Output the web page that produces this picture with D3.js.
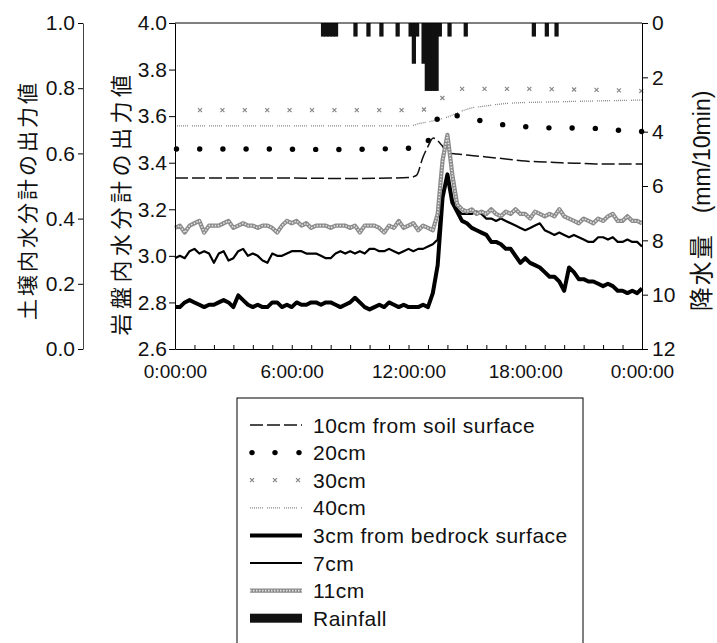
<!DOCTYPE html>
<html>
<head>
<meta charset="utf-8">
<script src="https://cdn.jsdelivr.net/npm/d3@7"></script>
<style>
body { margin: 0; background: #fff; }
text { font-family: "Liberation Sans", Arial, sans-serif; fill: #111; }
.jp { font-family: "Noto Sans CJK JP", sans-serif; }
</style>
</head>
<body>
<svg id="chart" width="717" height="643"></svg>
<script>
// bedrock sensors, one reading every 15 minutes from 0:00 to 24:00
const gridStep = 0.25;
const bed3cm = [
  2.78, 2.78, 2.80, 2.81, 2.80, 2.79, 2.78, 2.79, 2.79, 2.80, 2.81, 2.80, 2.78, 2.83, 2.81, 2.79, 2.78, 2.79, 2.78, 2.78, 2.80, 2.80, 2.78, 2.79, 2.78, 2.80,
  2.79, 2.79, 2.80, 2.80, 2.79, 2.80, 2.80, 2.79, 2.78, 2.79, 2.80, 2.82, 2.80, 2.78, 2.77, 2.78, 2.79, 2.78, 2.80, 2.79, 2.78, 2.79, 2.78, 2.78, 2.78, 2.79,
  2.78, 2.84, 2.96, 3.25, 3.35,
  3.23, 3.19, 3.15, 3.14, 3.12, 3.11, 3.10, 3.09, 3.06, 3.06, 3.05, 3.03, 3.03, 3.00, 2.97, 2.99, 2.97, 2.96, 2.95, 2.93,
  2.91, 2.91, 2.89, 2.85, 2.95, 2.93, 2.90, 2.90, 2.89, 2.89, 2.88, 2.87, 2.88, 2.87, 2.85, 2.85, 2.84, 2.85, 2.84, 2.86
];
const bed7cm = [
  2.99, 3.00, 2.99, 3.02, 3.03, 3.01, 3.02, 3.01, 2.97, 3.01, 3.02, 2.98, 2.99, 3.02, 3.03, 3.00, 3.01, 3.00, 2.98, 2.97, 3.01, 3.00, 3.00, 3.01, 3.02, 3.02,
  3.02, 3.01, 3.01, 3.01, 3.00, 2.99, 2.99, 3.01, 3.02, 3.01, 3.02, 3.01, 3.02, 3.01, 3.03, 3.03, 3.02, 3.02, 3.03, 3.02, 3.01, 3.02, 3.03, 3.02, 3.03, 3.03,
  3.04, 3.05, 3.07, 3.26, 3.34,
  3.24, 3.20, 3.18, 3.18, 3.18, 3.19, 3.18, 3.16, 3.16, 3.15, 3.16, 3.15, 3.14, 3.13, 3.12, 3.11, 3.12, 3.13, 3.14, 3.11,
  3.10, 3.09, 3.10, 3.09, 3.08, 3.09, 3.08, 3.07, 3.06, 3.06, 3.08, 3.08, 3.07, 3.08, 3.06, 3.06, 3.07, 3.06, 3.06, 3.04
];
const bed11cm = [
  3.12, 3.13, 3.10, 3.13, 3.14, 3.15, 3.10, 3.13, 3.13, 3.13, 3.14, 3.15, 3.12, 3.13, 3.14, 3.13, 3.13, 3.12, 3.13, 3.13, 3.12, 3.10, 3.13, 3.15, 3.14, 3.15,
  3.13, 3.14, 3.12, 3.13, 3.13, 3.13, 3.12, 3.13, 3.13, 3.13, 3.12, 3.13, 3.10, 3.13, 3.13, 3.13, 3.12, 3.10, 3.13, 3.12, 3.15, 3.12, 3.13, 3.14, 3.11, 3.13,
  3.12, 3.11, 3.18, 3.41, 3.52,
  3.35, 3.22, 3.20, 3.19, 3.20, 3.18, 3.19, 3.18, 3.20, 3.18, 3.17, 3.19, 3.18, 3.20, 3.18, 3.18, 3.16, 3.19, 3.18, 3.17,
  3.18, 3.17, 3.20, 3.17, 3.16, 3.15, 3.14, 3.16, 3.15, 3.14, 3.16, 3.15, 3.17, 3.18, 3.15, 3.15, 3.17, 3.15, 3.15, 3.14
];

// soil sensors (smooth, read at irregular hours)
const soil10Hours = [0, 3, 6, 9, 11, 12, 12.4, 12.75, 13.0, 13.27, 13.7, 14.0, 14.5, 15, 16, 17, 18, 19, 20, 21, 22, 23, 24];
const soil10 = [3.334, 3.334, 3.334, 3.332, 3.334, 3.336, 3.345, 3.425, 3.47, 3.506, 3.476, 3.442, 3.437, 3.433, 3.425, 3.416, 3.407, 3.403, 3.399, 3.397, 3.394, 3.394, 3.394];
const soil20Hours = [0, 4, 8, 12, 12.85, 13.3, 13.77, 14.95, 16.1, 17.3, 18.5, 19.6, 20.9, 22.1, 23.3, 24];
const soil20 = [3.459, 3.459, 3.457, 3.462, 3.472, 3.56, 3.613, 3.592, 3.575, 3.558, 3.553, 3.549, 3.549, 3.545, 3.536, 3.534];
const soil30Hours = [0, 6, 12, 13.0, 13.6, 14.6, 16, 18, 20, 22, 24];
const soil30 = [3.626, 3.626, 3.626, 3.63, 3.669, 3.717, 3.717, 3.717, 3.715, 3.712, 3.708];
const soil40Hours = [0, 6, 12, 12.6, 13.44, 14.0, 14.65, 15.05, 16.0, 17.3, 19.3, 21.5, 24];
const soil40 = [3.558, 3.558, 3.558, 3.569, 3.583, 3.596, 3.619, 3.631, 3.644, 3.656, 3.661, 3.665, 3.669];

// rainfall per 10 minutes (start of interval)
const rainTimes = ["7:30", "7:40", "7:50", "8:00", "8:10", "9:10", "9:50", "10:30", "11:20", "12:00", "12:10", "12:20",
  "12:40", "12:50", "13:00", "13:10", "13:20", "13:30", "14:00", "14:50", "18:20", "19:00", "19:30"];
const rainMm = [0.5, 0.5, 0.5, 0.5, 0.5, 0.5, 0.5, 0.5, 0.5, 0.5, 1.5, 0.5,
  1.5, 2.5, 2.5, 2.5, 2.5, 0.5, 0.5, 0.5, 0.5, 0.5, 0.5];

const timeLabelHours = [0, 6, 12, 18, 24];
const timeLabels = ["0:00:00", "6:00:00", "12:00:00", "18:00:00", "0:00:00"];
const bedTicks = [2.6, 2.8, 3.0, 3.2, 3.4, 3.6, 3.8, 4.0];
const soilTicks = [0, 0.2, 0.4, 0.6, 0.8, 1.0];
const rainTicks = [0, 2, 4, 6, 8, 10, 12];
const legendLabels = ["10cm from soil surface", "20cm", "30cm", "40cm", "3cm from bedrock surface", "7cm", "11cm", "Rainfall"];

const svg = d3.select("#chart");

const x = d3.scaleLinear().domain([0, 24]).range([175, 642]);
const y = d3.scaleLinear().domain([2.6, 4.0]).range([349, 23]);
const ySoil = d3.scaleLinear().domain([0, 1]).range([349, 23]);
const yRain = d3.scaleLinear().domain([0, 12]).range([23, 349]);

const toHour = t => { const [h, m] = t.split(":").map(Number); return h + m / 60; };
const pairs = (hs, vs) => hs.map((h, i) => [h, vs[i]]);
const grid = vs => vs.map((v, i) => [i * gridStep, v]);

const line = d3.line().x(d => x(d[0])).y(d => y(d[1]));
const smooth = d3.line().x(d => x(d[0])).y(d => y(d[1])).curve(d3.curveMonotoneX);

// rain bars hang from the top axis
svg.append("g").selectAll("rect")
  .data(rainTimes.map((t, i) => ({ h: toHour(t), mm: rainMm[i] })))
  .join("rect")
  .attr("x", d => x(d.h))
  .attr("y", yRain(0))
  .attr("width", x(10 / 60) - x(0) + 1)
  .attr("height", d => yRain(d.mm) - yRain(0))
  .attr("fill", "#111");

const plot = svg.append("g");

// points spaced along a curve, for the dotted series
function marksAlong(data, gap, offset) {
  const p = plot.append("path").attr("d", smooth(data)).attr("fill", "none");
  const node = p.node();
  const len = node.getTotalLength();
  const pts = d3.range(offset, len, gap).map(l => node.getPointAtLength(l));
  p.remove();
  return pts;
}

const dash40 = "1,1,1,1,1,1,1,1,1,1,1,1,1,4";

plot.append("path")
  .attr("d", smooth(pairs(soil40Hours, soil40)))
  .attr("fill", "none").attr("stroke", "#888").attr("stroke-width", 1.3)
  .attr("stroke-dasharray", dash40);

const xMark = "M-2,-2L2,2M-2,2L2,-2";
plot.selectAll(".m30")
  .data(marksAlong(pairs(soil30Hours, soil30), 22.4, 25))
  .join("path")
  .attr("class", "m30")
  .attr("transform", d => `translate(${d.x},${d.y})`)
  .attr("d", xMark)
  .attr("stroke", "#888").attr("stroke-width", 1.2).attr("fill", "none");

plot.selectAll(".m20")
  .data(marksAlong(pairs(soil20Hours, soil20), 23.2, 1.5))
  .join("circle")
  .attr("class", "m20")
  .attr("cx", d => d.x).attr("cy", d => d.y).attr("r", 2.7)
  .attr("fill", "#000");

plot.append("path")
  .attr("d", smooth(pairs(soil10Hours, soil10)))
  .attr("fill", "none").attr("stroke", "#111").attr("stroke-width", 1.5)
  .attr("stroke-dasharray", "13,4");

plot.append("path")
  .attr("d", line(grid(bed3cm)))
  .attr("fill", "none").attr("stroke", "#000").attr("stroke-width", 4)
  .attr("stroke-linejoin", "round");

plot.append("path")
  .attr("d", line(grid(bed7cm)))
  .attr("fill", "none").attr("stroke", "#000").attr("stroke-width", 2.2)
  .attr("stroke-linejoin", "round");

plot.append("path")
  .attr("d", line(grid(bed11cm)))
  .attr("fill", "none").attr("stroke", "#8a8a8a").attr("stroke-width", 4.2)
  .attr("stroke-linejoin", "round");
plot.append("path")
  .attr("d", line(grid(bed11cm)))
  .attr("fill", "none").attr("stroke", "#e2e2e2").attr("stroke-width", 1.6)
  .attr("stroke-dasharray", "1.5,1.5");

// axes
function styleAxis(g, size) {
  g.attr("font-size", size).attr("font-family", null);
  g.selectAll("path, line").attr("stroke", "#000");
}

svg.append("g")
  .attr("transform", "translate(0,349)")
  .call(d3.axisBottom(x)
    .tickValues(d3.range(0, 25, 1))
    .tickSize(-4).tickSizeOuter(0).tickPadding(16)
    .tickFormat(h => {
      const i = timeLabelHours.indexOf(h);
      return i < 0 ? "" : timeLabels[i];
    }))
  .call(g => styleAxis(g, 19));

svg.append("line")
  .attr("x1", x(0)).attr("x2", x(24)).attr("y1", y(4.0)).attr("y2", y(4.0))
  .attr("stroke", "#000");

svg.append("g")
  .attr("transform", `translate(${x(0)},0)`)
  .call(d3.axisLeft(y).tickValues(bedTicks).tickFormat(d3.format(".1f"))
    .tickSize(6).tickSizeOuter(0).tickPadding(2))
  .call(g => styleAxis(g, 21));

svg.append("g")
  .attr("transform", "translate(83,0)")
  .call(d3.axisLeft(ySoil).tickValues(soilTicks).tickFormat(d3.format(".1f"))
    .tickSize(5).tickSizeOuter(0).tickPadding(3))
  .call(g => styleAxis(g, 21))
  .call(g => g.select(".domain").attr("stroke", "#444"));

svg.append("g")
  .attr("transform", `translate(${x(24)},0)`)
  .call(d3.axisRight(yRain).tickValues(rainTicks).tickFormat(d3.format("d"))
    .tickSize(6).tickSizeOuter(0).tickPadding(4))
  .call(g => styleAxis(g, 21));

// axis titles
svg.append("text").attr("class", "jp")
  .attr("transform", "translate(35,200) rotate(-90)")
  .attr("text-anchor", "middle").attr("font-size", 21).attr("letter-spacing", 3)
  .text("土壌内水分計の出力値");

svg.append("text").attr("class", "jp")
  .attr("transform", "translate(129,203) rotate(-90)")
  .attr("text-anchor", "middle").attr("font-size", 22).attr("letter-spacing", 4.5)
  .text("岩盤内水分計の出力値");

const rainTitle = svg.append("text")
  .attr("transform", "translate(710,201) rotate(-90)")
  .attr("text-anchor", "middle").attr("font-size", 23);
rainTitle.append("tspan").attr("class", "jp").attr("font-size", 24).attr("letter-spacing", 2).text("降水量");
rainTitle.append("tspan").attr("dx", 20).text("(mm/10min)");

// legend
const legend = svg.append("g");
legend.append("rect")
  .attr("x", 237).attr("y", 398).attr("width", 346).attr("height", 270)
  .attr("fill", "none").attr("stroke", "#000");

const lx0 = 250, lx1 = 302, ly0 = 425, lstep = 27.6;
const ly = i => ly0 + i * lstep;

legend.selectAll(".lab")
  .data(legendLabels)
  .join("text")
  .attr("class", "lab")
  .attr("x", 313).attr("y", (d, i) => ly(i))
  .attr("dy", "0.36em").attr("font-size", 21).attr("letter-spacing", 0.5)
  .text(d => d);

const seg = i => `M${lx0},${ly(i)}H${lx1}`;
legend.append("path").attr("d", seg(0)).attr("stroke", "#111").attr("stroke-width", 1.5).attr("stroke-dasharray", "13,4");
legend.selectAll(".l20").data([252, 275, 299]).join("circle").attr("class", "l20")
  .attr("cx", d => d).attr("cy", ly(1)).attr("r", 2.7).attr("fill", "#000");
legend.selectAll(".l30").data([252, 275, 298]).join("path").attr("class", "l30")
  .attr("transform", d => `translate(${d},${ly(2)})`).attr("d", xMark)
  .attr("stroke", "#888").attr("stroke-width", 1.2).attr("fill", "none");
legend.append("path").attr("d", seg(3)).attr("stroke", "#888").attr("stroke-width", 1.3).attr("stroke-dasharray", dash40);
legend.append("path").attr("d", seg(4)).attr("stroke", "#000").attr("stroke-width", 4);
legend.append("path").attr("d", seg(5)).attr("stroke", "#000").attr("stroke-width", 2.2);
legend.append("path").attr("d", seg(6)).attr("stroke", "#8a8a8a").attr("stroke-width", 4.2);
legend.append("path").attr("d", seg(6)).attr("stroke", "#e2e2e2").attr("stroke-width", 1.6).attr("stroke-dasharray", "1.5,1.5");
legend.append("rect").attr("x", lx0).attr("y", ly(7) - 4.5).attr("width", lx1 - lx0).attr("height", 9).attr("fill", "#111");
</script>
</body>
</html>
